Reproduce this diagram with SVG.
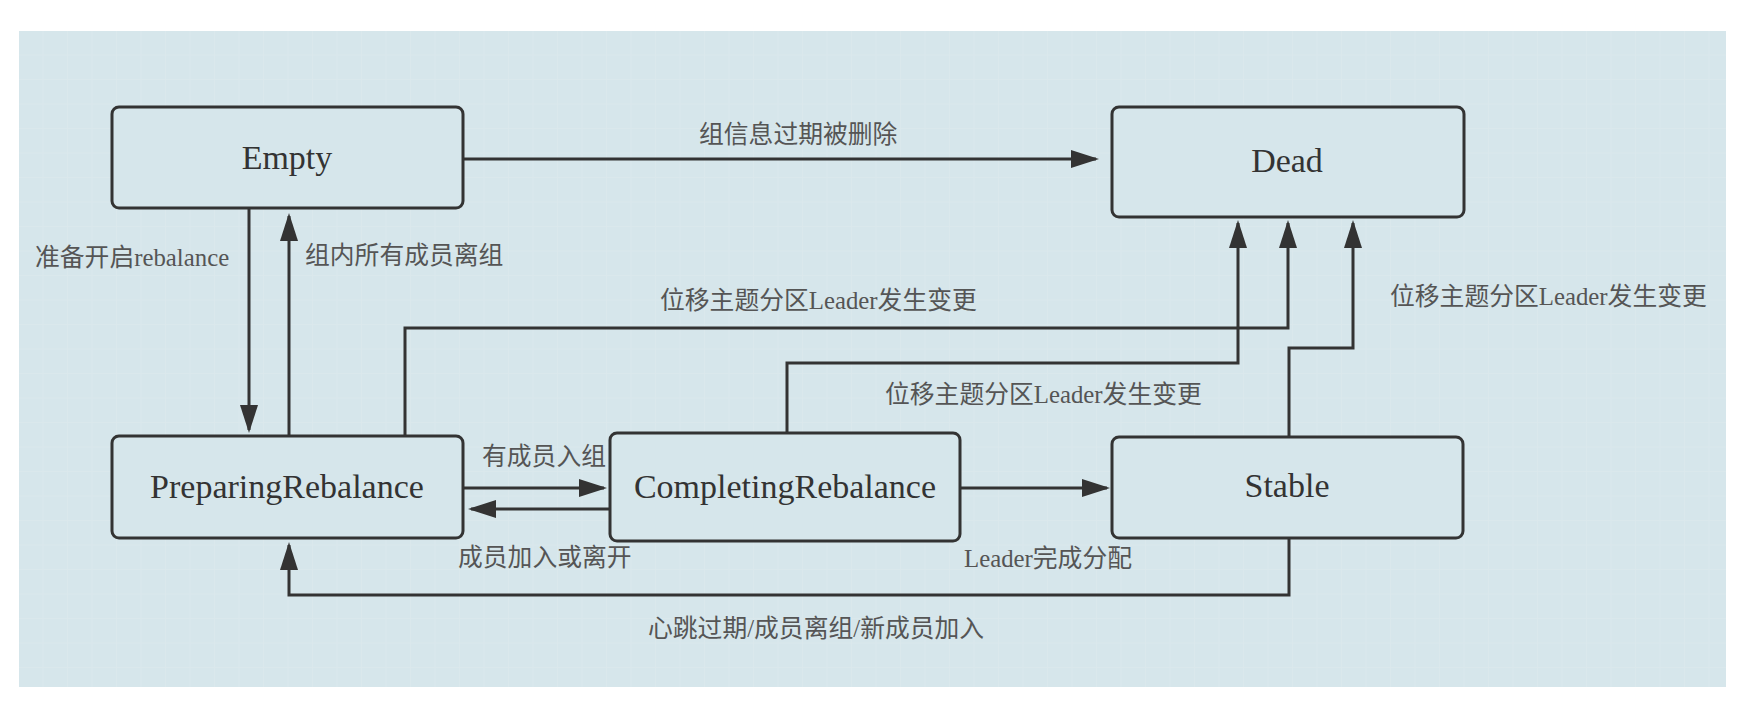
<svg xmlns="http://www.w3.org/2000/svg" width="1754" height="704" viewBox="0 0 1754 704">
  <style>
    .node rect { fill: #d6e6eb; stroke: #333; stroke-width: 3; }
    .node text { font-family: "Liberation Serif", "Noto Sans CJK SC", serif; font-size: 34px; fill: #333; text-anchor: middle; }
    .conn { fill: none; stroke: #333; stroke-width: 3; marker-end: url(#arrow); }
    .lbl { font-family: "Liberation Serif", "Noto Sans CJK SC", serif; font-size: 24.8px; fill: #555; }
  </style>
  <defs>
    <marker id="arrow" markerUnits="userSpaceOnUse" markerWidth="28" markerHeight="18" refX="25" refY="9" orient="auto">
      <path d="M0,0 L28,9 L0,18 z" fill="#333"/>
    </marker>
    <pattern id="grid" width="24.5" height="24.5" patternUnits="userSpaceOnUse" x="19" y="31">
      <path d="M24.5,0 V24.5 H0" fill="none" stroke="#dde9ed" stroke-width="1"/>
    </pattern>
  </defs>
  <rect x="0" y="0" width="1754" height="704" fill="#ffffff"/>
  <rect x="19" y="31" width="1707" height="656" fill="#d6e6eb"/>
  <rect x="19" y="31" width="1707" height="656" fill="url(#grid)"/>

  <g id="connectors">
    <path class="conn" d="M463,159 H1096"/>
    <path class="conn" d="M249,208 V430"/>
    <path class="conn" d="M289,436 V216"/>
    <path class="conn" d="M405,436 V328 H1288 V223"/>
    <path class="conn" d="M787,433 V363 H1238 V223"/>
    <path class="conn" d="M1289,437 V348 H1353 V223"/>
    <path class="conn" d="M463,488 H604"/>
    <path class="conn" d="M610,509 H471"/>
    <path class="conn" d="M960,488 H1107"/>
    <path class="conn" d="M1289,538 V595 H289 V545"/>
  </g>

  <g id="labels">
    <text class="lbl" x="699" y="143">组信息过期被删除</text>
    <text class="lbl" x="35" y="266">准备开启rebalance</text>
    <text class="lbl" x="305" y="264">组内所有成员离组</text>
    <text class="lbl" x="660" y="309">位移主题分区Leader发生变更</text>
    <text class="lbl" x="885" y="403">位移主题分区Leader发生变更</text>
    <text class="lbl" x="1390" y="305">位移主题分区Leader发生变更</text>
    <text class="lbl" x="482" y="465">有成员入组</text>
    <text class="lbl" x="458" y="566">成员加入或离开</text>
    <text class="lbl" x="964" y="567">Leader完成分配</text>
    <text class="lbl" x="648" y="637">心跳过期/成员离组/新成员加入</text>
  </g>

  <g id="node-empty" class="node">
    <rect x="112" y="107" width="351" height="101" rx="7"/>
    <text x="287" y="169">Empty</text>
  </g>
  <g id="node-dead" class="node">
    <rect x="1112" y="107" width="352" height="110" rx="7"/>
    <text x="1287" y="172">Dead</text>
  </g>
  <g id="node-preparing" class="node">
    <rect x="112" y="436" width="351" height="102" rx="7"/>
    <text x="287" y="498">PreparingRebalance</text>
  </g>
  <g id="node-completing" class="node">
    <rect x="610" y="433" width="350" height="108" rx="7"/>
    <text x="785" y="498">CompletingRebalance</text>
  </g>
  <g id="node-stable" class="node">
    <rect x="1112" y="437" width="351" height="101" rx="7"/>
    <text x="1287" y="497">Stable</text>
  </g>
</svg>
